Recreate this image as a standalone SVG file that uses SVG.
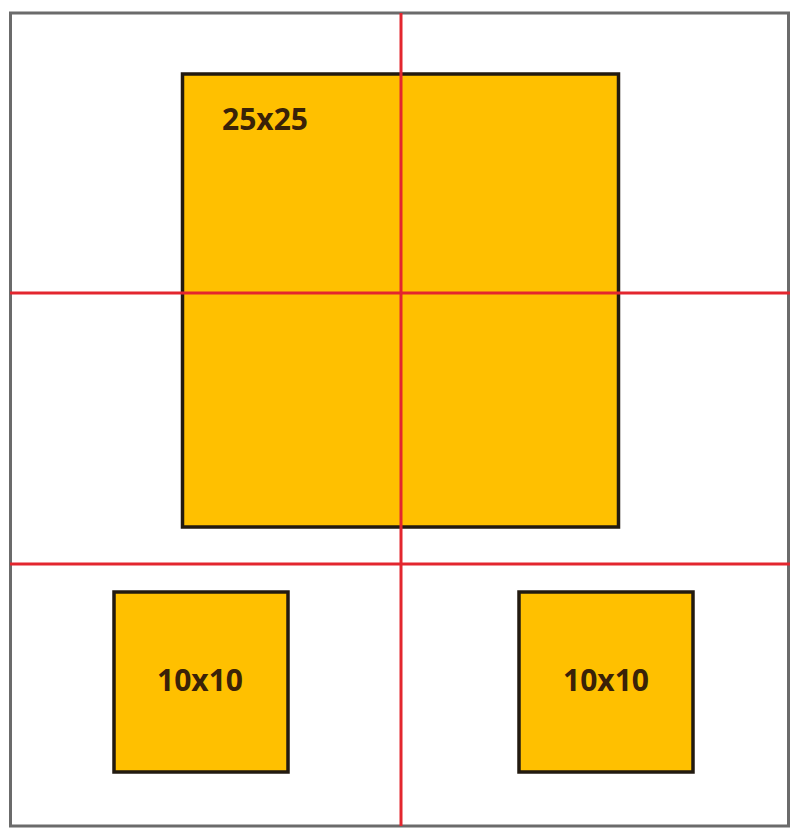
<svg xmlns="http://www.w3.org/2000/svg" width="790" height="828" viewBox="0 0 790 828">
<style>
.box{fill:#FFC000;stroke:#221a10;stroke-width:3.5}
.lbl{font-family:"Open Sans","Liberation Sans",sans-serif;font-weight:bold;font-size:30px;fill:#3a2208}
.red{stroke:#e3262e;stroke-width:3;fill:none}
</style>
<rect x="0" y="0" width="790" height="828" fill="#ffffff"/>
<rect x="10.5" y="13" width="778" height="813" fill="#ffffff" stroke="#6b6b6b" stroke-width="3"/>
<g id="big">
<rect class="box" x="182.5" y="74" width="436" height="453"/>
<text class="lbl" x="222" y="130">25x25</text>
</g>
<g id="small-left">
<rect class="box" x="114" y="592" width="174" height="180"/>
<text class="lbl" x="200" y="691" text-anchor="middle">10x10</text>
</g>
<g id="small-right">
<rect class="box" x="519" y="592" width="174" height="180"/>
<text class="lbl" x="606" y="691" text-anchor="middle">10x10</text>
</g>
<g id="connectors">
<line class="red" x1="401" y1="13" x2="401" y2="826"/>
<line class="red" x1="10" y1="293" x2="790" y2="293"/>
<line class="red" x1="10" y1="564" x2="790" y2="564"/>
</g>
</svg>
